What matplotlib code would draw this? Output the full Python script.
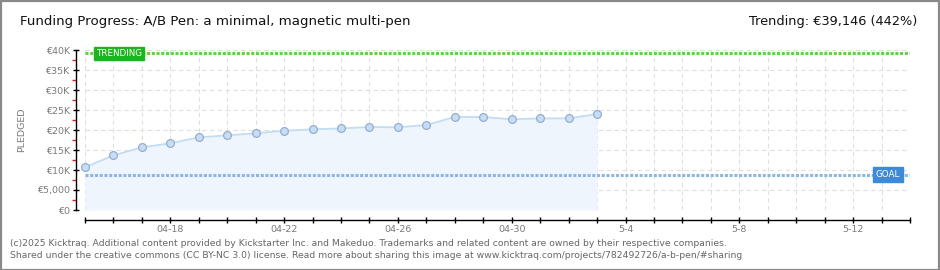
import matplotlib
matplotlib.use('Agg')
import matplotlib.pyplot as plt
import matplotlib.dates as mdates
import matplotlib.transforms as mtransforms
from matplotlib.patches import Rectangle
from matplotlib.ticker import FixedLocator, FixedFormatter
import pandas as pd

# ---------------- data ----------------
dates = ['2025-04-15', '2025-04-16', '2025-04-17', '2025-04-18', '2025-04-19',
         '2025-04-20', '2025-04-21', '2025-04-22', '2025-04-23', '2025-04-24',
         '2025-04-25', '2025-04-26', '2025-04-27', '2025-04-28', '2025-04-29',
         '2025-04-30', '2025-05-01', '2025-05-02', '2025-05-03']
pledged = [10670, 13670, 15670, 16670, 18170, 18670, 19170, 19830, 20170, 20400,
           20750, 20670, 21250, 23250, 23250, 22670, 22900, 22900, 24000]
goal = 8857
trending = 39146
trending_pct = 442
x_start, x_end = '2025-04-15', '2025-05-14'
label_dates = ['2025-04-18', '2025-04-22', '2025-04-26', '2025-04-30',
               '2025-05-04', '2025-05-08', '2025-05-12']
label_texts = ['04-18', '04-22', '04-26', '04-30', '5-4', '5-8', '5-12']
ytick_vals = [0, 5000, 10000, 15000, 20000, 25000, 30000, 35000, 40000]
ytick_labels = ['€0', '€5,000', '€10K', '€15K', '€20K', '€25K', '€30K', '€35K', '€40K']

title = 'Funding Progress: A/B Pen: a minimal, magnetic multi-pen'
footer1 = ('(c)2025 Kicktraq. Additional content provided by Kickstarter Inc. and Makeduo. '
           'Trademarks and related content are owned by their respective companies.')
footer2 = ('Shared under the creative commons (CC BY-NC 3.0) license. Read more about sharing '
           'this image at www.kicktraq.com/projects/782492726/a-b-pen/#sharing')

# ---------------- figure ----------------
W, H = 940, 270
PX = 72 / 100  # points per pixel
fig = plt.figure(figsize=(W / 100, H / 100), dpi=100)
fig.patch.set_facecolor('white')

# outer border
fig.add_artist(Rectangle((0.5 / W, 0.5 / H), 1 - 1.5 / W, 1 - 1.5 / H,
                         transform=fig.transFigure, fill=False,
                         edgecolor='#8a8a8a', linewidth=1.6))

ax = fig.add_axes([85 / W, 60 / H, 825 / W, 160 / H])

x = mdates.date2num(pd.to_datetime(dates))
x0 = mdates.date2num(pd.Timestamp(x_start))
x1 = mdates.date2num(pd.Timestamp(x_end))

ax.set_xlim(x0, x1)
ax.set_ylim(0, 40000)

# fill + line + markers
ax.fill_between(x, 0, pledged, color='#eef5fd', zorder=1, linewidth=0)
ax.plot(x, pledged, color='#c2dcf5', linewidth=1.3, zorder=3)
ax.plot(x, pledged, linestyle='none', marker='o', markersize=5.6,
        markerfacecolor='#c6ddf7', markeredgecolor='#97aecb', markeredgewidth=0.9,
        zorder=4, clip_on=False)

# goal & trending lines
ax.axhline(goal, color='#8fb6e2', linewidth=2.2, linestyle=(0, (1.0, 0.55)), zorder=2)
ax.axhline(trending, color='#62cf4e', linewidth=2.2, linestyle=(0, (1.0, 0.55)), zorder=2)

# labels for lines
ax.text(x0 + 0.38, trending, 'TRENDING', color='white', fontsize=6.3,
        ha='left', va='center', zorder=6,
        bbox=dict(boxstyle='square,pad=0.25', facecolor='#1fb31f',
                  edgecolor='#1fb31f'))
trans = mtransforms.blended_transform_factory(ax.transAxes, ax.transData)
ax.text(0.988, goal, 'GOAL', color='white', fontsize=6.3, transform=trans,
        ha='right', va='center', zorder=6,
        bbox=dict(boxstyle='square,pad=0.3', facecolor='#3d8ad8',
                  edgecolor='#3d8ad8'))

# ticks / grid
all_days = [x0 + i for i in range(int(round(x1 - x0)) + 1)]
ax.xaxis.set_major_locator(FixedLocator(all_days))
lab_nums = [mdates.date2num(pd.Timestamp(d)) for d in label_dates]
lab_map = {round(n): t for n, t in zip(lab_nums, label_texts)}
ax.xaxis.set_major_formatter(FixedFormatter([lab_map.get(round(d), '') for d in all_days]))

ax.yaxis.set_major_locator(FixedLocator(ytick_vals))
ax.yaxis.set_major_formatter(FixedFormatter(ytick_labels))
ax.yaxis.set_minor_locator(FixedLocator([v + 2500 for v in ytick_vals[:-1]]))

ax.grid(True, which='major', color='#e0e0e0', linestyle=(0, (4, 3)), linewidth=0.8, zorder=0)
ax.set_axisbelow(True)

for s in ['top', 'right']:
    ax.spines[s].set_visible(False)
ax.spines['left'].set_position(('outward', 9 * PX))
ax.spines['bottom'].set_position(('outward', 10 * PX))
for s in ['left', 'bottom']:
    ax.spines[s].set_color('black')
    ax.spines[s].set_linewidth(1.0)

ax.tick_params(axis='y', which='major', direction='inout', length=5, width=1,
               color='black', labelsize=6.8, labelcolor='#7a7a7a', pad=2)
ax.tick_params(axis='y', which='minor', direction='out', length=3, width=1,
               color='#e02020')
ax.tick_params(axis='x', which='major', direction='inout', length=5, width=1,
               color='black', labelsize=6.8, labelcolor='#7a7a7a', pad=1)

fig.text(22 / W, 1 - 130 / H, 'PLEDGED', rotation=90, ha='center', va='center',
         fontsize=6.8, color='#7a7a7a')

# titles
fig.text(20 / W, 1 - 22 / H, title, ha='left', va='center', fontsize=9.6,
         color='#111111')
fig.text(917 / W, 1 - 22 / H, 'Trending: €{:,} ({}%)'.format(trending, trending_pct),
         ha='right', va='center', fontsize=9.3, color='#111111')

# footer
fig.text(10 / W, 1 - 243 / H, footer1, ha='left', va='center', fontsize=6.65, color='#666666')
fig.text(10 / W, 1 - 256 / H, footer2, ha='left', va='center', fontsize=6.65, color='#666666')

fig.savefig('out.png', dpi=100, facecolor='white')
